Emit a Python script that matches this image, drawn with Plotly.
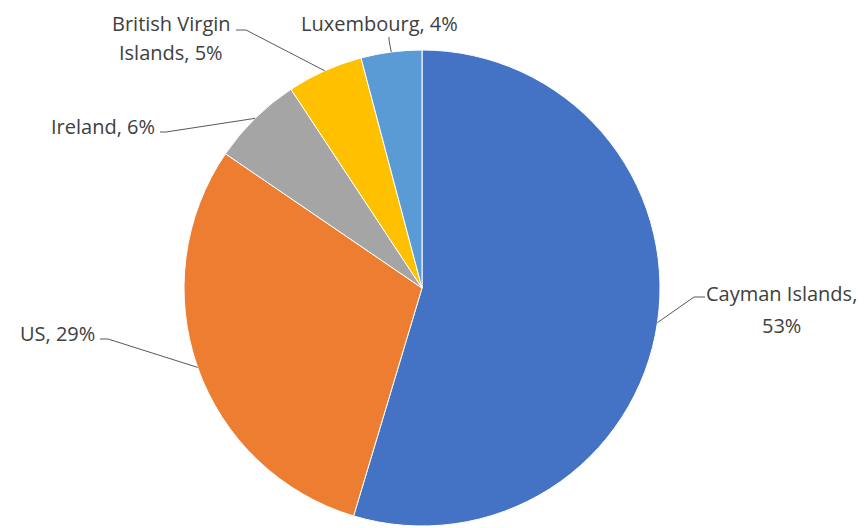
import math
import plotly.graph_objects as go

# ---- data ----
countries = ["Cayman Islands", "US", "Ireland", "British Virgin Islands", "Luxembourg"]
shares = [53, 29, 6, 5, 4]
label_texts = ["Cayman Islands,<br>53%", "US, 29%", "Ireland, 6%", "British Virgin<br>Islands, 5%", "Luxembourg, 4%"]

# ---- style / layout ----
colors = ["#4472C4", "#ED7D31", "#A5A5A5", "#FFC000", "#5B9BD5"]
W, H = 866, 528
OFF = 8  # page body margin offset
CX, CY, R = 422 - OFF, 288 - OFF, 238  # pie centre / radius in pixels
# label placement (reference pixels): text x, first-line y, line pitch, xanchor, line end, elbow
label_layout = [
    dict(tx=781, ty=293, pitch=32, xa="center", end=(705, 297), elbow=(694, 297)),
    dict(tx=97, ty=333, pitch=0, xa="right", end=(100, 339), elbow=(108, 339)),
    dict(tx=157, ty=127, pitch=0, xa="right", end=(160, 132), elbow=(166, 132)),
    dict(tx=171, ty=23, pitch=29, xa="center", end=(236, 30), elbow=(246, 30)),
    dict(tx=379, ty=24, pitch=0, xa="center", end=(389, 37), elbow=(389, 40)),
]
FONT = "Open Sans, Carlito, Calibri, sans-serif"
FSIZE = 20
TXT = "#404040"


def px(x):
    return x / W


def py(y):
    return 1 - y / H


def sx(x):
    return px(x - OFF)


def sy(y):
    return py(y - OFF)


fig = go.Figure(go.Pie(
    labels=countries,
    values=shares,
    sort=False,
    direction="clockwise",
    rotation=0,
    marker=dict(colors=colors, line=dict(color="white", width=1)),
    textinfo="none",
    hoverinfo="label+value",
    domain=dict(x=[px(CX - R), px(CX + R)], y=[py(CY + R), py(CY - R)]),
    showlegend=False,
))

total = sum(shares)
shapes, annotations = [], []
cum = 0
for v, txt, lay in zip(shares, label_texts, label_layout):
    mid = (cum + v / 2) / total * 2 * math.pi
    cum += v
    ex = CX + R * math.sin(mid)
    ey = CY - R * math.cos(mid)
    (lx, ly), (bx, by) = lay["end"], lay["elbow"]
    shapes.append(dict(
        type="path", xref="paper", yref="paper",
        path=f"M {px(ex)} {py(ey)} L {sx(bx)} {sy(by)} L {sx(lx)} {sy(ly)}",
        line=dict(color="#595959", width=1),
    ))
    for i, line in enumerate(txt.split("<br>")):
        annotations.append(dict(
            x=sx(lay["tx"]), y=sy(lay["ty"] + i * lay["pitch"]), xref="paper", yref="paper",
            text=line, showarrow=False, xanchor=lay["xa"], yanchor="middle",
            align="center", font=dict(family=FONT, size=FSIZE, color=TXT),
        ))

fig.update_layout(
    width=W, height=H,
    margin=dict(l=0, r=0, t=0, b=0),
    paper_bgcolor="white", plot_bgcolor="white",
    shapes=shapes, annotations=annotations,
)

fig.write_html("out.html")
